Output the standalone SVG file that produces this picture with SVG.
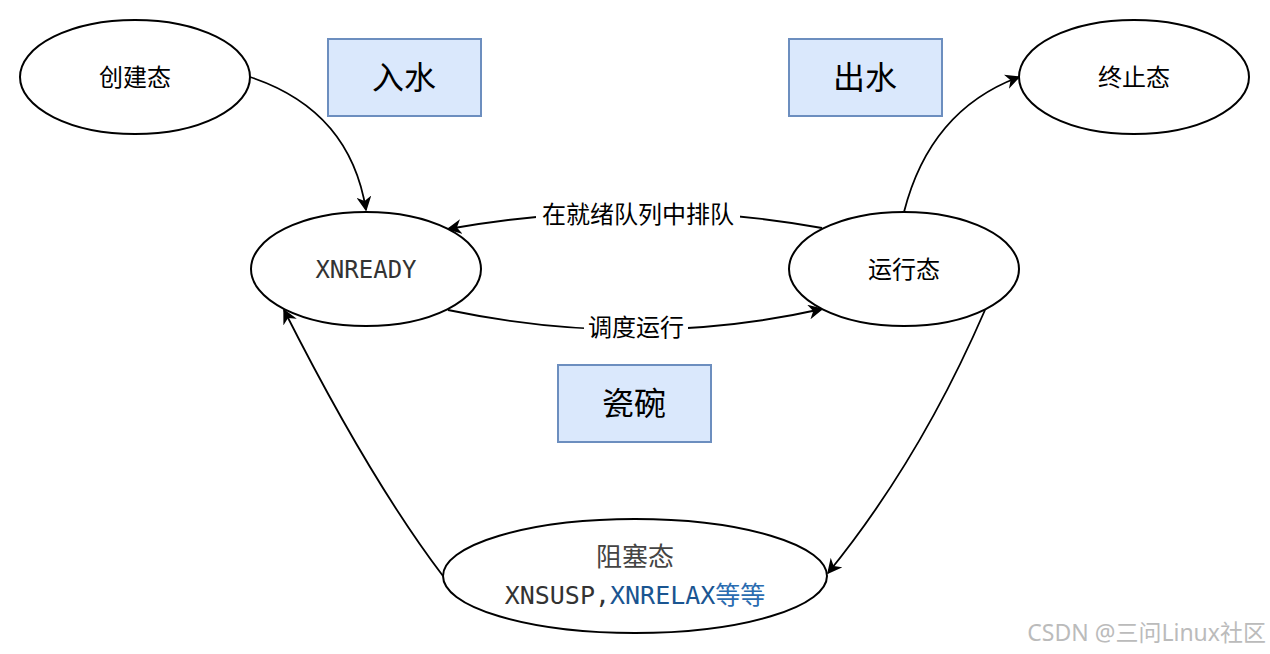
<svg xmlns="http://www.w3.org/2000/svg" width="1270" height="654" viewBox="0 0 1270 654">
<defs>
<marker id="a" viewBox="0 0 10 10" refX="9" refY="5" markerWidth="15" markerHeight="15" markerUnits="userSpaceOnUse" orient="auto"><path d="M0,0 L10,5 L0,10 L3,5 Z" fill="#000"/></marker>
</defs>
<style>
.n{fill:#fff;stroke:#000;stroke-width:2}
.b{fill:#dae8fc;stroke:#6c8ebf;stroke-width:2}
.t{font-family:"Noto Sans","Noto Sans CJK SC",sans-serif;font-size:24px;text-anchor:middle;fill:#000}
.m{font-family:"DejaVu Sans Mono","Noto Sans CJK SC",monospace;font-size:24px;text-anchor:middle;fill:#333}
.bt{font-family:"Noto Sans","Noto Sans CJK SC",sans-serif;font-size:32px;text-anchor:middle;fill:#000}
.c{fill:none;stroke:#000;stroke-width:1.8;marker-end:url(#a)}
.l{font-family:"Noto Sans","Noto Sans CJK SC",sans-serif;font-size:24px;text-anchor:middle;fill:#000}
</style>
<rect width="1270" height="654" fill="#fff"/>
<g id="edges">
<path class="c" d="M250,77 Q350,110 366,210"/>
<path class="c" d="M904,212 Q930,110 1019,77"/>
<path class="c" d="M822,228 Q640,195 448,229"/>
<path class="c" d="M448,310 Q640,350 822,309"/>
<path class="c" d="M985,310 Q920,460 828,573"/>
<path class="c" d="M443,576 Q370,480 284,310"/>
<rect x="536" y="200" width="204" height="30" fill="#fff"/>
<text class="l" x="638" y="223">在就绪队列中排队</text>
<rect x="584" y="313" width="104" height="30" fill="#fff"/>
<text class="l" x="636" y="336">调度运行</text>
</g>
<g id="create"><ellipse class="n" cx="135" cy="77" rx="115" ry="57"/><text class="t" x="135" y="86">创建态</text></g>
<g id="term"><ellipse class="n" cx="1134" cy="77" rx="115" ry="57"/><text class="t" x="1134" y="86">终止态</text></g>
<g id="ready"><ellipse class="n" cx="366" cy="269" rx="115" ry="57"/><text class="m" x="366" y="278">XNREADY</text></g>
<g id="run"><ellipse class="n" cx="904" cy="269" rx="115" ry="57"/><text class="t" x="904" y="278">运行态</text></g>
<g id="block"><ellipse class="n" cx="635" cy="576" rx="192" ry="57"/>
<text class="t" x="635" y="566" style="fill:#444;font-size:26px">阻塞态</text>
<text class="m" x="635" y="604" style="font-size:25px"><tspan fill="#333">XNSUSP,</tspan><tspan fill="#1a5591">XNRELAX</tspan><tspan fill="#2a6cb0">等等</tspan></text></g>
<g id="rushui"><rect class="b" x="328" y="39" width="153" height="77"/><text class="bt" x="404" y="89">入水</text></g>
<g id="chushui"><rect class="b" x="789" y="39" width="153" height="77"/><text class="bt" x="865" y="89">出水</text></g>
<g id="ciwan"><rect class="b" x="558" y="365" width="153" height="77"/><text class="bt" x="634" y="415">瓷碗</text></g>
<text x="1266" y="641" style="font-family:'Noto Sans','Noto Sans CJK SC',sans-serif;font-size:23px;text-anchor:end;fill:#bbb">CSDN @三问Linux社区</text>
</svg>
